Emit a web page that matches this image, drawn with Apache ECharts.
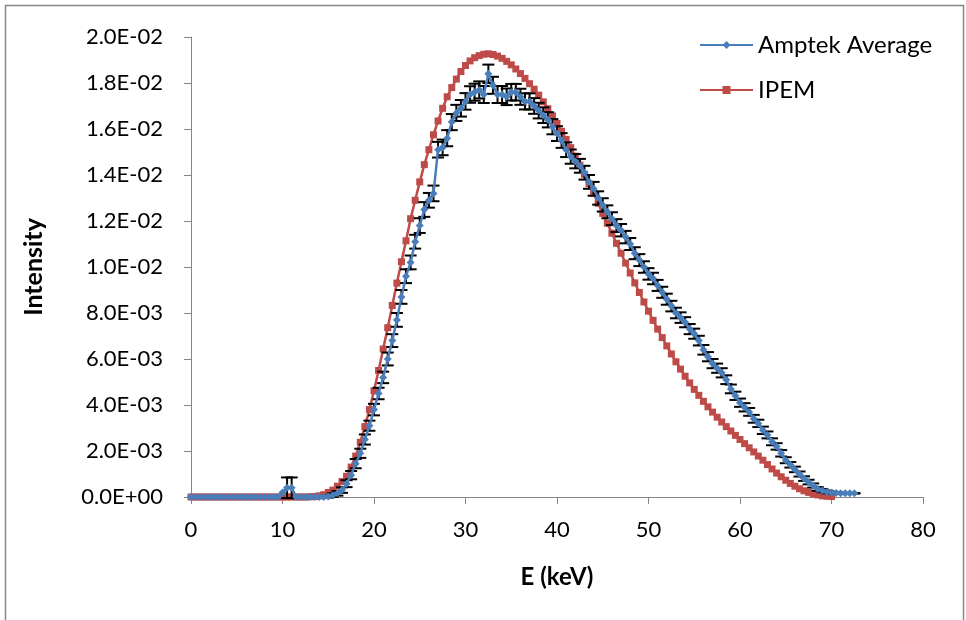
<!DOCTYPE html>
<html>
<head>
<meta charset="utf-8">
<script src="https://cdn.jsdelivr.net/npm/echarts@6.0.0/dist/echarts.min.js"></script>
<style>
  html, body { margin: 0; padding: 0; background: #fff; }
  #chart { width: 966px; height: 620px; }
</style>
</head>
<body>
<div id="chart"></div>
<script>
// Photon energy channels (keV), shared by both spectra
const energies = [
  0, 0.5, 1, 1.5, 2, 2.5, 3, 3.5, 4, 4.5, 5, 5.5, 6, 6.5, 7, 7.5, 8, 8.5, 9, 9.5,
  10, 10.5, 11, 11.5, 12, 12.5, 13, 13.5, 14, 14.5, 15, 15.5, 16, 16.5, 17, 17.5, 18, 18.5, 19, 19.5,
  20, 20.5, 21, 21.5, 22, 22.5, 23, 23.5, 24, 24.5, 25, 25.5, 26, 26.5, 27, 27.5, 28, 28.5, 29, 29.5,
  30, 30.5, 31, 31.5, 32, 32.5, 33, 33.5, 34, 34.5, 35, 35.5, 36, 36.5, 37, 37.5, 38, 38.5, 39, 39.5,
  40, 40.5, 41, 41.5, 42, 42.5, 43, 43.5, 44, 44.5, 45, 45.5, 46, 46.5, 47, 47.5, 48, 48.5, 49, 49.5,
  50, 50.5, 51, 51.5, 52, 52.5, 53, 53.5, 54, 54.5, 55, 55.5, 56, 56.5, 57, 57.5, 58, 58.5, 59, 59.5,
  60, 60.5, 61, 61.5, 62, 62.5, 63, 63.5, 64, 64.5, 65, 65.5, 66, 66.5, 67, 67.5, 68, 68.5, 69, 69.5,
  70, 70.5, 71, 71.5, 72, 72.5,
];

// Amptek Average intensity (0 - 72.5 keV)
const amptek = [
  0, 0, 0, 0, 0, 0, 0, 0, 0, 0, 0, 0, 0, 0, 0, 0, 0, 0, 0, 0,
  0.0002, 0.0004, 0.0004, 0, 0, 0, 0, 0, 0, 0, 0.00002, 0.00008, 0.00016, 0.0003, 0.00058, 0.00095, 0.00145, 0.0019, 0.0025, 0.0031,
  0.0038, 0.0045, 0.0052, 0.006, 0.0068, 0.0077, 0.0087, 0.0096, 0.0102, 0.0111, 0.0118, 0.0125, 0.0129, 0.0132, 0.0151, 0.0152, 0.0156, 0.0163, 0.0167, 0.0169,
  0.0172, 0.0175, 0.0176, 0.0177, 0.0175, 0.0184, 0.0179, 0.0175, 0.0175, 0.0174, 0.0176, 0.0176, 0.0174, 0.0172, 0.0172, 0.017, 0.0168, 0.0166, 0.0164, 0.0161,
  0.0158, 0.0155, 0.0151, 0.0148, 0.0146, 0.0144, 0.0141, 0.0137, 0.0134, 0.013, 0.0127, 0.0124, 0.0121, 0.0118, 0.0116, 0.0113, 0.011, 0.0106, 0.0103, 0.01,
  0.0097, 0.0095, 0.0092, 0.0089, 0.0086, 0.0083, 0.008, 0.0078, 0.0076, 0.0073, 0.0071, 0.0068, 0.0064, 0.0061, 0.0058, 0.0056, 0.0054, 0.0051, 0.0047, 0.0044,
  0.0041, 0.0039, 0.0037, 0.0034, 0.0032, 0.0029, 0.0027, 0.0024, 0.0022, 0.0019, 0.0016, 0.0014, 0.0012, 0.001, 0.0008, 0.00065, 0.0005, 0.00035, 0.00028, 0.00022,
  0.00019, 0.00017, 0.00016, 0.00016, 0.00016, 0.00016,
];

// Amptek standard deviation (error bar half-height)
const amptekErr = [
  0, 0, 0, 0, 0, 0, 0, 0, 0, 0, 0, 0, 0, 0, 0, 0, 0, 0, 0, 0,
  0, 0.00045, 0.00045, 0, 0, 0, 0, 0, 0, 0, 0.00005, 0.00008, 0.0001, 0.00012, 0.00015, 0.00018, 0.0002, 0.0002, 0.00022, 0.00022,
  0.00025, 0.00025, 0.00025, 0.00028, 0.00028, 0.0003, 0.0003, 0.0003, 0.0003, 0.0003, 0.00032, 0.00032, 0.00032, 0.00034, 0.00034, 0.00034, 0.00035, 0.00035, 0.00035, 0.00036,
  0.00036, 0.00036, 0.00037, 0.00037, 0.00037, 0.0004, 0.00037, 0.00037, 0.00037, 0.00036, 0.00036, 0.00036, 0.00035, 0.00035, 0.00035, 0.00034, 0.00034, 0.00034, 0.00033, 0.00033,
  0.00032, 0.00032, 0.00032, 0.00031, 0.00031, 0.0003, 0.0003, 0.0003, 0.0003, 0.00029, 0.00029, 0.00028, 0.00028, 0.00028, 0.00027, 0.00027, 0.00026, 0.00026, 0.00026, 0.00025,
  0.00025, 0.00025, 0.00024, 0.00024, 0.00024, 0.00023, 0.00023, 0.00023, 0.00022, 0.00022, 0.00022, 0.00021, 0.00021, 0.0002, 0.0002, 0.0002, 0.0002, 0.00019, 0.00019, 0.00018,
  0.00018, 0.00018, 0.00017, 0.00017, 0.00016, 0.00016, 0.00015, 0.00015, 0.00014, 0.00014, 0.00013, 0.00012, 0.00012, 0.00011, 0.0001, 0.0001, 0.00009, 0.00008, 0.00007, 0.00006,
  0.00005, 0.00004, 0.00003, 0.00002, 0.00002, 0.00001,
];

// IPEM reference spectrum (0 - 70 keV)
const ipem = [
  0, 0, 0, 0, 0, 0, 0, 0, 0, 0, 0, 0, 0, 0, 0, 0, 0, 0, 0, 0,
  0, 0, 0, 0, 0, 0, 0.00001, 0.00002, 0.00005, 0.0001, 0.0002, 0.0003, 0.00047, 0.00067, 0.0009, 0.0013, 0.00178, 0.00238, 0.00306, 0.0038,
  0.00462, 0.0055, 0.00643, 0.00736, 0.00833, 0.0093, 0.01023, 0.01114, 0.0121, 0.0129, 0.0137, 0.01445, 0.0151, 0.01575, 0.01635, 0.0169, 0.0174, 0.0178, 0.01817, 0.0185,
  0.01876, 0.01896, 0.0191, 0.01919, 0.01925, 0.01927, 0.01924, 0.01917, 0.01907, 0.01894, 0.01879, 0.01861, 0.01841, 0.0182, 0.01797, 0.01773, 0.01747, 0.01718, 0.01688, 0.01657,
  0.01624, 0.0159, 0.01555, 0.01519, 0.01482, 0.01443, 0.01403, 0.01362, 0.0132, 0.01277, 0.01233, 0.0119, 0.01147, 0.01103, 0.0106, 0.01017, 0.00974, 0.00931, 0.00889, 0.00848,
  0.00808, 0.00768, 0.0073, 0.00693, 0.00657, 0.00622, 0.00588, 0.00556, 0.00525, 0.00496, 0.00468, 0.00442, 0.00416, 0.00392, 0.00369, 0.00347, 0.00326, 0.00306, 0.00287, 0.00268,
  0.0025, 0.00232, 0.00214, 0.00196, 0.00178, 0.0016, 0.00141, 0.00122, 0.00104, 0.00088, 0.00073, 0.00059, 0.00047, 0.00036, 0.00027, 0.0002, 0.00014, 0.00009, 0.00005, 0.00003,
  0.00002,
];

const seriesNames = ["Amptek Average", "IPEM"];

const BLUE = "#4A7EBB";
const RED = "#BE4B48";
const AXIS_GRAY = "#868686";
const FONT = "Lato";

/*
  Helpers
*/
function pairs(xs, ys) {
  return ys.map((y, i) => [xs[i], y]);
}

function errorBarData() {
  return amptek
    .map((v, i) => [energies[i], v - amptekErr[i], v + amptekErr[i], amptekErr[i]])
    .filter((d) => d[3] > 0);
}

// Excel style scientific label: 2.0E-02
function sciLabel(value) {
  const [mant, exp] = value.toExponential(1).split("e");
  const n = parseInt(exp, 10);
  const sign = n < 0 ? "-" : "+";
  return `${mant}E${sign}${String(Math.abs(n)).padStart(2, "0")}`;
}

function renderErrorBar(params, api) {
  const x = api.value(0);
  const lo = api.coord([x, api.value(1)]);
  const hi = api.coord([x, api.value(2)]);
  const half = 6;
  const style = { stroke: "#000", lineWidth: 2 };

  return {
    type: "group",
    children: [
      { type: "line", shape: { x1: lo[0], y1: lo[1], x2: hi[0], y2: hi[1] }, style },
      { type: "line", shape: { x1: hi[0] - half, y1: hi[1], x2: hi[0] + half, y2: hi[1] }, style },
      { type: "line", shape: { x1: lo[0] - half, y1: lo[1], x2: lo[0] + half, y2: lo[1] }, style },
    ],
  };
}

const chart = echarts.init(document.getElementById("chart"), null, { renderer: "canvas" });

const option = {
  animation: false,
  backgroundColor: "#fff",
  textStyle: { fontFamily: FONT },
  graphic: [
    {
      type: "rect",
      shape: { x: 5.5, y: 5.5, width: 958, height: 650 },
      style: { fill: "none", stroke: AXIS_GRAY, lineWidth: 1.5 },
      silent: true,
    },
  ],
  grid: {
    left: 191,
    right: 43,
    top: 37,
    bottom: 123,
    outerBoundsMode: "none",
  },
  legend: {
    data: seriesNames,
    orient: "vertical",
    left: 694,
    top: 28,
    itemWidth: 53,
    itemHeight: 10,
    itemGap: 21,
    textStyle: { fontFamily: FONT, fontSize: 24, color: "#000", lineHeight: 24 },
  },
  xAxis: {
    type: "value",
    min: 0,
    max: 80,
    interval: 10,
    name: "E (keV)",
    nameLocation: "middle",
    nameGap: 68,
    nameTextStyle: { fontFamily: FONT, fontSize: 24, fontWeight: "bold", color: "#000" },
    axisLine: { show: true, lineStyle: { color: AXIS_GRAY, width: 1 } },
    axisTick: { show: true, length: 7, lineStyle: { color: AXIS_GRAY } },
    axisLabel: { margin: 22, fontSize: 22, color: "#000", fontFamily: FONT },
    splitLine: { show: false },
  },
  yAxis: {
    type: "value",
    min: 0,
    max: 0.02,
    interval: 0.002,
    name: "Intensity",
    nameLocation: "middle",
    nameGap: 145,
    nameTextStyle: { fontFamily: FONT, fontSize: 25, fontWeight: "bold", color: "#000" },
    axisLine: { show: true, lineStyle: { color: AXIS_GRAY, width: 1 } },
    axisTick: { show: true, length: 7, lineStyle: { color: AXIS_GRAY } },
    axisLabel: { margin: 28, fontSize: 22, color: "#000", fontFamily: FONT, formatter: sciLabel },
    splitLine: { show: false },
  },
  series: [
    {
      name: "IPEM",
      type: "line",
      data: pairs(energies, ipem),
      symbol: "rect",
      symbolSize: 7,
      z: 2,
      itemStyle: { color: RED },
      lineStyle: { color: RED, width: 2.5 },
    },
    {
      name: "Amptek error",
      type: "custom",
      data: errorBarData(),
      renderItem: renderErrorBar,
      encode: { x: 0, y: [1, 2] },
      z: 3,
      silent: true,
    },
    {
      name: "Amptek Average",
      type: "line",
      data: pairs(energies, amptek),
      symbol: "diamond",
      symbolSize: 8,
      z: 4,
      itemStyle: { color: BLUE },
      lineStyle: { color: BLUE, width: 2.5 },
    },
  ],
};

chart.setOption(option);
</script>
</body>
</html>
